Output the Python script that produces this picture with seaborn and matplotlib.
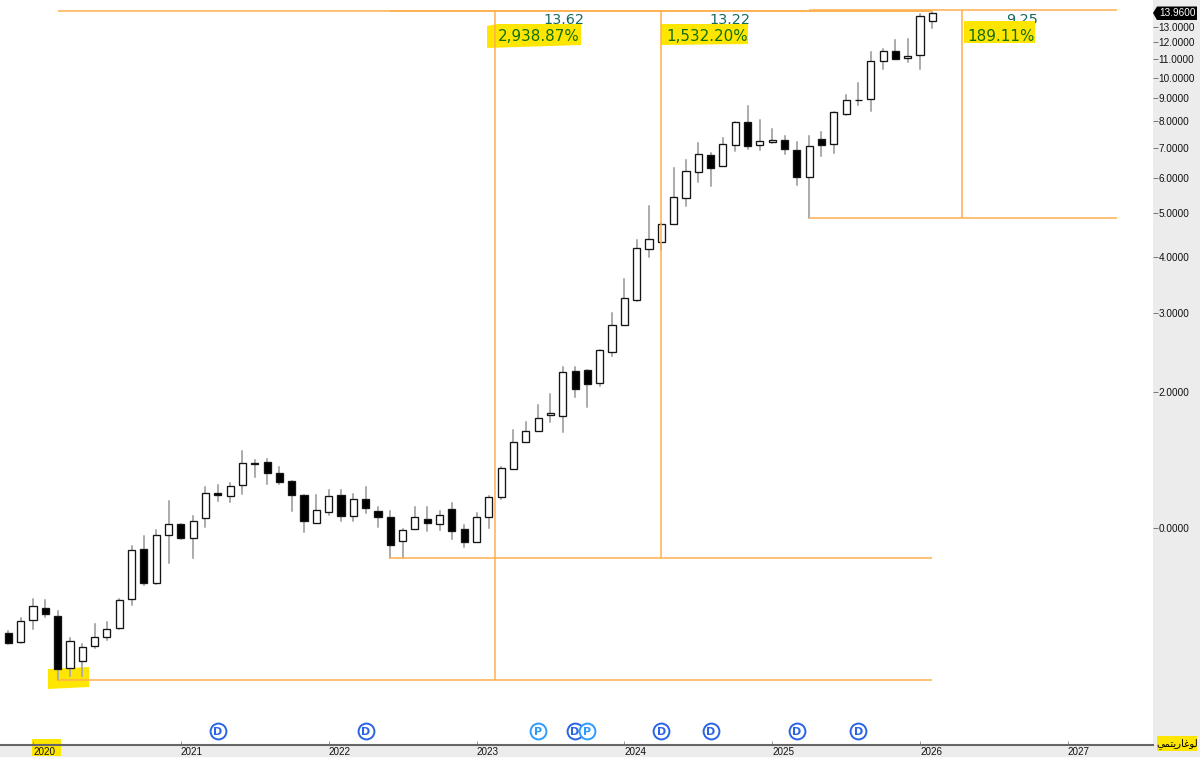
import matplotlib
matplotlib.use("Agg")
import matplotlib.pyplot as plt
from matplotlib.patches import Polygon, Rectangle
import seaborn as sns
import pandas as pd
import numpy as np

# monthly candles, Nov 2019 to Feb 2026
opens = [0.584, 0.559, 0.624, 0.665, 0.637, 0.488, 0.506, 0.547, 0.572, 0.600,
         0.694, 0.897, 0.754, 0.965, 1.019, 0.949, 1.054, 1.194, 1.176, 1.246,
         1.392, 1.399, 1.327, 1.270, 1.184, 1.026, 1.087, 1.184, 1.063, 1.158,
         1.089, 1.060, 0.936, 0.995, 1.045, 1.019, 1.102, 0.993, 0.932, 1.060,
         1.172, 1.354, 1.553, 1.645, 1.780, 1.773, 2.229, 2.240, 2.096, 2.456,
         2.825, 3.210, 4.160, 4.312, 4.728, 5.400, 6.187, 6.739, 6.370, 7.093,
         7.966, 7.093, 7.213, 7.288, 6.913, 6.021, 7.325, 7.117, 8.324, 8.915,
         8.960, 10.88, 11.49, 11.05, 11.22, 13.37]
closes = [0.556, 0.622, 0.670, 0.643, 0.487, 0.560, 0.545, 0.574, 0.598, 0.691,
          0.892, 0.754, 0.966, 1.022, 0.952, 1.036, 1.194, 1.184, 1.242, 1.392,
          1.385, 1.325, 1.267, 1.186, 1.035, 1.098, 1.178, 1.063, 1.158, 1.106,
          1.058, 0.918, 0.991, 1.060, 1.027, 1.069, 0.986, 0.932, 1.060, 1.172,
          1.357, 1.555, 1.645, 1.758, 1.798, 2.217, 2.039, 2.086, 2.489, 2.829,
          3.238, 4.182, 4.378, 4.735, 5.428, 6.200, 6.763, 6.315, 7.129, 7.966,
          7.057, 7.228, 7.288, 6.938, 6.021, 7.068, 7.093, 8.384, 8.915, 8.942,
          10.92, 11.49, 11.01, 11.16, 13.70, 13.96]
highs = [0.591, 0.632, 0.697, 0.691, 0.653, 0.569, 0.552, 0.611, 0.619, 0.697,
         0.912, 0.958, 0.990, 1.148, 1.022, 1.065, 1.235, 1.248, 1.261, 1.483,
         1.416, 1.423, 1.368, 1.274, 1.184, 1.182, 1.215, 1.215, 1.190, 1.231,
         1.115, 1.093, 0.996, 1.112, 1.112, 1.089, 1.135, 1.015, 1.078, 1.178,
         1.368, 1.648, 1.720, 1.873, 1.982, 2.275, 2.282, 2.244, 2.489, 2.999,
         3.574, 4.356, 5.200, 4.750, 6.305, 6.569, 7.166, 6.809, 7.340, 7.966,
         8.658, 8.073, 7.698, 7.416, 7.191, 7.416, 7.580, 8.384, 9.146, 9.755,
         11.40, 11.57, 12.12, 12.22, 13.84, 14.00]
lows = [0.552, 0.556, 0.598, 0.635, 0.460, 0.469, 0.470, 0.541, 0.564, 0.598,
        0.676, 0.747, 0.752, 0.837, 0.944, 0.856, 1.004, 1.150, 1.144, 1.192,
        1.300, 1.250, 1.250, 1.091, 0.981, 1.024, 1.070, 1.038, 1.038, 1.081,
        1.005, 0.856, 0.856, 0.993, 0.986, 0.990, 0.947, 0.907, 0.931, 0.999,
        1.158, 1.354, 1.553, 1.645, 1.717, 1.637, 1.951, 1.860, 2.071, 2.410,
        2.825, 3.193, 3.993, 4.145, 4.728, 5.200, 5.878, 5.751, 6.370, 6.889,
        6.960, 6.924, 7.155, 6.784, 5.789, 4.890, 6.694, 6.809, 8.282, 8.702,
        8.453, 10.48, 10.99, 10.86, 10.48, 12.90]

axis_values = [13, 12, 11, 10, 9, 8, 7, 6, 5, 4, 3, 2, 1]
axis_labels = ["13.0000", "12.0000", "11.0000", "10.0000", "9.0000", "8.0000", "7.0000",
               "6.0000", "5.0000", "4.0000", "3.0000", "2.0000", "0.0000"]
years = [2020, 2021, 2022, 2023, 2024, 2025, 2026, 2027]

# dividend and profit events, months counted from Jan 2020
d_events = [15, 27, 44, 51, 55, 62, 67]
p_events = [41, 45]

# measured swings: start month, low, high, end month, vertical at, move and percent
swing_starts = [2, 29, 63]
swing_lows = [0.4595, 0.856, 4.89]
swing_highs = [14.08, 14.08, 14.14]
swing_ends = [73, 73, 88]
swing_marks = [37.47, 50.97, 75.42]
swing_moves = ["13.62", "13.22", "9.25"]
swing_pcts = ["2,938.87%", "1,532.20%", "189.11%"]

log_label = "لوغاريتمي"
log_label_shaped = "\ufef2\ufee4\ufe98\ufef3\ufead\ufe8e\ufecf\ufeee\ufedf"  # matplotlib does no arabic shaping

ORANGE = "#ffb04f"
YELLOW = "#ffe600"
PANEL = "#ececec"
TEAL = "#17695f"
GREEN = "#0f6e12"
W, H = 1200, 760


def px(x, y):
    return x / W, 1 - y / H


sns.set_theme(style="white")
plt.rcParams["font.family"] = ["Liberation Sans", "DejaVu Sans"]

df = pd.DataFrame({"open": opens, "high": highs, "low": lows, "close": closes})
df["pos"] = np.arange(len(df)) - 2
df["up"] = df["close"] >= df["open"]

fig = plt.figure(figsize=(12, 7.6), dpi=100, facecolor="white")
ax = fig.add_axes([0, 1 - 744.5 / H, 1153 / W, 744.5 / H])
ax.set_yscale("log")

fig.add_artist(Rectangle(px(1153, 756), 47 / W, 756 / H, transform=fig.transFigure, color=PANEL, zorder=-1))
fig.add_artist(Rectangle(px(0, 756), 1153 / W, 10 / H, transform=fig.transFigure, color=PANEL, zorder=-1))
fig.add_artist(Rectangle(px(1097, 2), 41 / W, 2 / H, transform=fig.transFigure, color="#dddddd", zorder=-1))

# yellow marker scribbles, by hand on the screenshot
scribbles = [
    [(487, 26), (497, 24), (581, 24), (581, 45), (487, 48)],
    [(661, 24), (748, 24), (748, 44), (661, 45)],
    [(964, 21), (1035, 21), (1035, 43), (964, 43)],
    [(48, 669), (89, 667), (89, 687), (48, 689)],
    [(32, 739), (61, 739), (61, 756), (32, 756)],
    [(1157, 736), (1197, 736), (1197, 751), (1157, 751)],
]
for pts in scribbles:
    ax.add_patch(Polygon([px(*p) for p in pts], transform=fig.transFigure, color=YELLOW,
                         lw=0, zorder=0.5, clip_on=False))

# wicks
wicks = df.melt(id_vars="pos", value_vars=["high", "low"], value_name="price")
sns.lineplot(data=wicks, x="pos", y="price", units="pos", estimator=None, color="#adadad",
             lw=1.45, ax=ax, legend=False, zorder=2)

# bodies
ax.bar(df["pos"], (df["close"] - df["open"]).abs(), bottom=df[["open", "close"]].min(axis=1),
       width=0.58, color=np.where(df["up"], "white", "black"), edgecolor="#151515", lw=0.95, zorder=3)

# drawing tool lines
for start, low, high, end, mark in zip(swing_starts, swing_lows, swing_highs, swing_ends, swing_marks):
    ax.hlines([low, high], start, end, color=ORANGE, lw=1.25, alpha=0.9, zorder=4)
    ax.vlines(mark, low, high, color=ORANGE, lw=1.25, alpha=0.9, zorder=4)

# event markers
event_level = 0.354
for events, letter, col in [(d_events, "D", "#2a63e6"), (p_events, "P", "#2b9bff")]:
    sns.scatterplot(x=events, y=[event_level] * len(events), s=130, color="white", edgecolor=col,
                    linewidth=1.4, ax=ax, legend=False, zorder=5, clip_on=False)
    for e in events:
        ax.text(e, event_level, letter, color=col, fontsize=8, fontweight="bold", ha="center",
                va="center_baseline", family="DejaVu Sans", zorder=6)

ax.set_xlim(-33 / 12.32, 1120 / 12.32)
ax.set_ylim(0.3304, 14.89)
ax.set_xlabel("")
ax.set_ylabel("")

ax.yaxis.tick_right()
ax.set_yticks(axis_values)
ax.set_yticklabels(axis_labels)
ax.minorticks_off()
ax.tick_params(axis="y", which="major", direction="out", length=3.5, width=0.7, color="#777777",
               labelsize=7.2, labelcolor="#111111", pad=0.5, right=True, left=False)

ax.set_xticks([(y - 2020) * 12 for y in years])
ax.set_xticklabels(years, ha="left")
ax.tick_params(axis="x", direction="in", length=3, width=0.7, color="#999999", labelsize=7.1,
               labelcolor="#111111", pad=1.5, bottom=True)

for side in ["left", "top", "right"]:
    ax.spines[side].set_visible(False)
ax.spines["bottom"].set_color("#666666")
ax.spines["bottom"].set_linewidth(1.5)

# measure labels
move_x = [564, 730, 1022]
pct_x = [498, 666, 967]
for mx, tx, move, pct in zip(move_x, pct_x, swing_moves, swing_pcts):
    ax.text(*px(mx, 24.5), move, transform=fig.transFigure, color=TEAL, fontsize=10.4, ha="center",
            va="baseline", family="DejaVu Sans", zorder=0.4)
    ax.text(*px(tx, 41), pct, transform=fig.transFigure, color=GREEN, fontsize=10.9, ha="left",
            va="baseline", family="DejaVu Sans", zorder=6)

# last price tag
tag = [(1153, 13), (1157, 6.5), (1197, 6.5), (1197, 20), (1157, 20)]
ax.add_patch(Polygon([px(*p) for p in tag], transform=fig.transFigure, color="black", lw=0,
                     zorder=7, clip_on=False))
ax.text(*px(1159, 13.5), f"{closes[-1]:.4f}", transform=fig.transFigure, color="white", fontsize=7.2,
        ha="left", va="center", zorder=8)

ax.text(*px(1177, 743.5), log_label_shaped, transform=fig.transFigure, color="black", fontsize=7.3,
        ha="center", va="center", family="DejaVu Sans", zorder=8)

fig.savefig("out.png", dpi=100)
